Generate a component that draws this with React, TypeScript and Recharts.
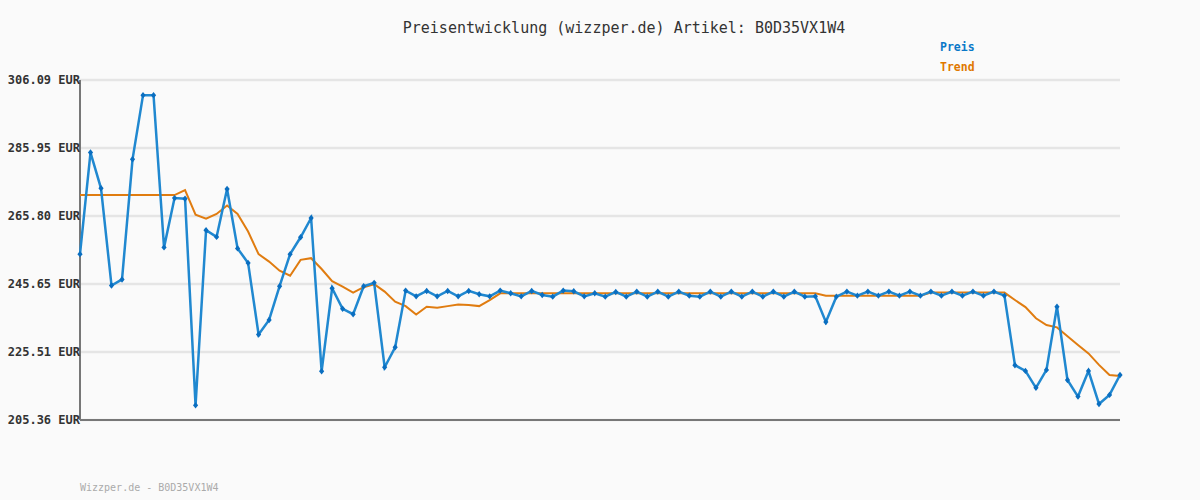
import React from "react";
import {
  LineChart,
  Line,
  XAxis,
  YAxis,
  CartesianGrid,
  ReferenceLine,
} from "recharts";

const articleId = "B0D35VX1W4";

const yTicks = [205.36, 225.51, 245.65, 265.8, 285.95, 306.09];

const prices = [
  254.5, 284.6, 274.0, 245.2, 247.0, 282.6, 301.6, 301.6, 256.5, 271.1,
  270.9, 209.7, 261.6, 259.6, 273.8, 256.2, 251.9, 230.7, 235.0, 245.0,
  254.5, 259.5, 265.2, 219.8, 244.4, 238.3, 236.7, 245.0, 246.0, 221.0,
  226.9, 243.7, 242.0, 243.6, 242.0, 243.6, 242.0, 243.6, 242.6, 242.0,
  243.7, 242.9, 242.0, 243.6, 242.4, 241.9, 243.7, 243.5, 242.0, 242.9,
  241.9, 243.3, 241.9, 243.4, 241.9, 243.4, 241.9, 243.4, 242.2, 241.9,
  243.4, 241.9, 243.4, 241.9, 243.4, 241.9, 243.4, 241.9, 243.4, 241.9,
  242.0, 234.4, 241.9, 243.4, 242.2, 243.4, 242.2, 243.4, 242.2, 243.4,
  242.2, 243.4, 242.2, 243.4, 242.2, 243.4, 242.2, 243.4, 242.2, 221.6,
  219.9, 214.9, 220.2, 238.9, 217.2, 212.3, 219.9, 210.1, 212.8, 218.7,
];

const trend = [
  272.0, 272.0, 272.0, 272.0, 272.0, 272.0, 272.0, 272.0, 272.0, 272.0,
  273.5, 266.2, 265.0, 266.4, 268.9, 266.4, 261.2, 254.5, 252.3, 249.6,
  248.1, 252.8, 253.3, 250.1, 246.5, 244.9, 243.1, 244.7, 245.6, 243.4,
  240.4, 239.1, 236.6, 238.9, 238.6, 239.1, 239.6, 239.4, 239.1, 240.9,
  242.9, 242.9, 242.9, 242.9, 242.9, 242.9, 242.9, 242.9, 242.9, 242.9,
  242.9, 242.9, 242.9, 242.9, 242.9, 242.9, 242.9, 242.9, 242.9, 242.9,
  242.9, 242.9, 242.9, 242.9, 242.9, 242.9, 242.9, 242.9, 242.9, 242.9,
  242.9, 242.2, 242.2, 242.2, 242.2, 242.2, 242.2, 242.2, 242.2, 242.2,
  242.2, 243.1, 243.1, 243.1, 243.1, 243.1, 243.1, 243.1, 243.1, 240.9,
  238.8, 235.5, 233.5, 232.8, 230.2, 227.6, 225.1, 221.7, 218.7, 218.4,
];

const data = prices.map((p, i) => ({ i, preis: p, trend: trend[i] }));

const MONO = "'DejaVu Sans Mono', 'Liberation Mono', monospace";

const Marker = (props: any) => {
  const { cx, cy } = props;
  if (cx == null || cy == null) return null;
  return (
    <path
      d={`M${cx},${cy - 3.2} L${cx + 2.6},${cy} L${cx},${cy + 3.2} L${cx - 2.6},${cy} Z`}
      fill="#0a6ec0"
    />
  );
};

// plain tick so the label doesn't get wrapped
const PriceTick = (props: any) => {
  const { x, y, payload } = props;
  return (
    <text
      x={x}
      y={y}
      dy={4}
      textAnchor="end"
      fill="#333"
      fontSize={12}
      fontWeight="bold"
      fontFamily={MONO}
    >
      {`${Number(payload.value).toFixed(2)} EUR`}
    </text>
  );
};

export default function App() {
  return (
    <div
      style={{
        position: "absolute",
        left: 0,
        top: 0,
        width: 1200,
        height: 500,
        background: "#fafafa",
      }}
    >
      <LineChart
        width={1200}
        height={500}
        data={data}
        margin={{ top: 80, right: 80, bottom: 80, left: 0 }}
      >
        <text
          x={624}
          y={33}
          textAnchor="middle"
          fontFamily={MONO}
          fontSize={15}
          fill="#333"
        >
          {`Preisentwicklung (wizzper.de) Artikel: ${articleId}`}
        </text>
        <text x={940} y={51} fontFamily={MONO} fontSize={11.5} fontWeight="bold" fill="#0a78c8">
          Preis
        </text>
        <text x={940} y={71} fontFamily={MONO} fontSize={11.5} fontWeight="bold" fill="#e07800">
          Trend
        </text>
        <text x={80} y={491} fontFamily={MONO} fontSize={10} fill="#aaa">
          {`Wizzper.de - ${articleId}`}
        </text>
        <CartesianGrid
          vertical={false}
          stroke="#e5e5e5"
          strokeWidth={2.5}
        />
        <XAxis
          dataKey="i"
          type="number"
          domain={[0, 99]}
          height={0}
          tick={false}
          tickLine={false}
          axisLine={false}
        />
        <YAxis
          width={80}
          domain={[205.36, 306.09]}
          ticks={yTicks}
          interval={0}
          tickLine={false}
          tickSize={0}
          tickMargin={0}
          axisLine={false}
          tick={<PriceTick />}
        />
        <ReferenceLine y={205.36} stroke="#777" strokeWidth={2} />
        <ReferenceLine x={0} stroke="#777" strokeWidth={2} />
        <Line
          dataKey="trend"
          stroke="#e07c10"
          strokeWidth={2}
          dot={false}
          type="linear"
          isAnimationActive={false}
        />
        <Line
          dataKey="preis"
          stroke="#2088d0"
          strokeWidth={2.5}
          dot={<Marker />}
          type="linear"
          isAnimationActive={false}
        />
      </LineChart>
    </div>
  );
}
